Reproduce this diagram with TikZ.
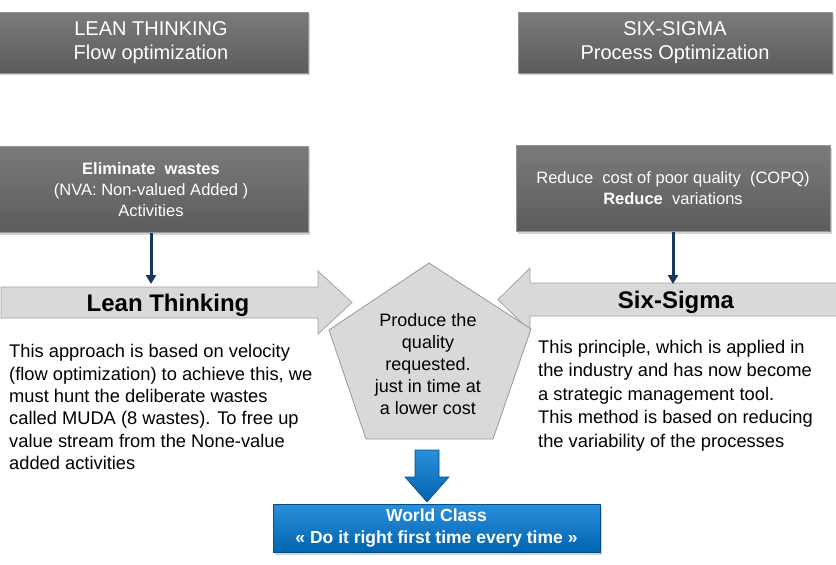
\documentclass[tikz,border=0pt]{standalone}
\usepackage{fontspec}
\setmainfont{Liberation Sans}
\usepackage{tikz}
\usetikzlibrary{positioning}
\usetikzlibrary{shadows}
\usetikzlibrary{arrows.meta}
\definecolor{boxtop}{HTML}{7A7A7A}
\definecolor{boxbot}{HTML}{5C5C5C}
\definecolor{boxedge}{HTML}{959595}
\definecolor{arrowfill}{HTML}{D9D9D9}
\definecolor{arrowedge}{HTML}{A3A3A3}
\definecolor{navy}{HTML}{17375E}
\definecolor{wctop}{HTML}{2A8FDB}
\definecolor{wcbot}{HTML}{0063AE}
\tikzset{
	every node/.style = {font=\fontsize{18}{22}\selectfont},
	graybox/.style = {rectangle, minimum width=314pt, top color=boxtop, bottom color=boxbot,
		draw=boxedge, line width=0.6pt, text=white, align=center,
		drop shadow={shadow xshift=2pt, shadow yshift=-2pt, opacity=.35}},
	titlebox/.style = {graybox, minimum height=61pt, font=\fontsize{20}{24}\selectfont},
	goalbox/.style = {graybox, minimum height=86pt, font=\fontsize{16.5}{21}\selectfont},
	flatarrow/.style = {fill=arrowfill, draw=arrowedge, line width=0.8pt},
	darrow/.style = {navy, line width=3pt, -{Triangle[length=9pt,width=10pt]}},
	bodytext/.style = {anchor=north west, align=left, inner sep=0pt, font=\fontsize{18.3}{22.3}\selectfont}
}
\begin{document}
\begin{tikzpicture}[x=1pt, y=-1pt]
	\useasboundingbox (0,0) rectangle (836,565);
	% top boxes
	\node[titlebox] (lean) at (151,42.5) {LEAN THINKING\\Flow optimization};
	\node[titlebox] (sigma) at (675,42.5) {SIX-SIGMA\\Process Optimization};
	\node[goalbox] (elim) at (151,189.5) {\textbf{Eliminate\ \ wastes}\\(NVA:\ Non-valued\ Added\ )\\Activities};
	\node[goalbox] (copq) at (673,188.5) {Reduce\ \ cost of poor quality\ \ (COPQ)\\\textbf{Reduce}\ \ variations};

	% big arrows
	\draw[flatarrow] (1,287) -- (318,287) -- (318,271) -- (352,302.5) -- (318,334) -- (318,318) -- (1,318) -- cycle;
	\draw[flatarrow] (845,283) -- (530,283) -- (530,268) -- (498,299.5) -- (530,331) -- (530,316) -- (845,316) -- cycle;
	\node[anchor=base, font=\fontsize{24}{28}\bfseries] (leanlbl) at (168,311.5) {Lean Thinking};
	\node[anchor=base, font=\fontsize{24}{28}\bfseries] (sigmalbl) at (676,308) {Six-Sigma};
	\coordinate (leantop) at (151,284);
	\coordinate (sigmatop) at (673,284);
	\foreach \a/\b in {elim/leantop, copq/sigmatop}
		\draw[darrow] (\a.south) -- (\b);

	% pentagon
	\draw[fill=arrowfill, draw=gray!80, line width=0.8pt] (429,263) -- (531,329) -- (493,439) -- (366,439) -- (329,330) -- cycle;
	\node[align=center] (goal) at (428,364) {Produce the\\quality\\requested.\\just in time at\\a lower cost};

	% texts
	\node[bodytext] (leantext) at (9,344.5) {This approach is based on velocity\\(flow optimization) to achieve this, we\\must hunt the deliberate wastes\\called MUDA (8 wastes). To free up\\value stream from the None-value\\added activities};
	\node[bodytext, font=\fontsize{18.3}{23.5}\selectfont] (sigmatext) at (538,340) {This principle, which is applied in\\the industry and has now become\\a strategic management tool.\\This method is based on reducing\\the variability of the processes};

	% world class
	\draw[top color=wctop, bottom color=wcbot, draw=wcbot!80!black, line width=0.6pt] (415,450) -- (439,450) -- (439,477) -- (449,477) -- (427,502) -- (405,477) -- (415,477) -- cycle;
	\node[rectangle, minimum width=327pt, minimum height=48pt, top color=wctop, bottom color=wcbot,
		draw=wcbot!80!black, line width=0.6pt, text=white, align=center, inner sep=0pt,
		font=\fontsize{17.5}{22}\bfseries, drop shadow={shadow xshift=2pt, shadow yshift=-2pt, opacity=.35}]
		(wc) at (436.5,528.5) {World Class\\« Do it right first time every time »};
\end{tikzpicture}
\end{document}
